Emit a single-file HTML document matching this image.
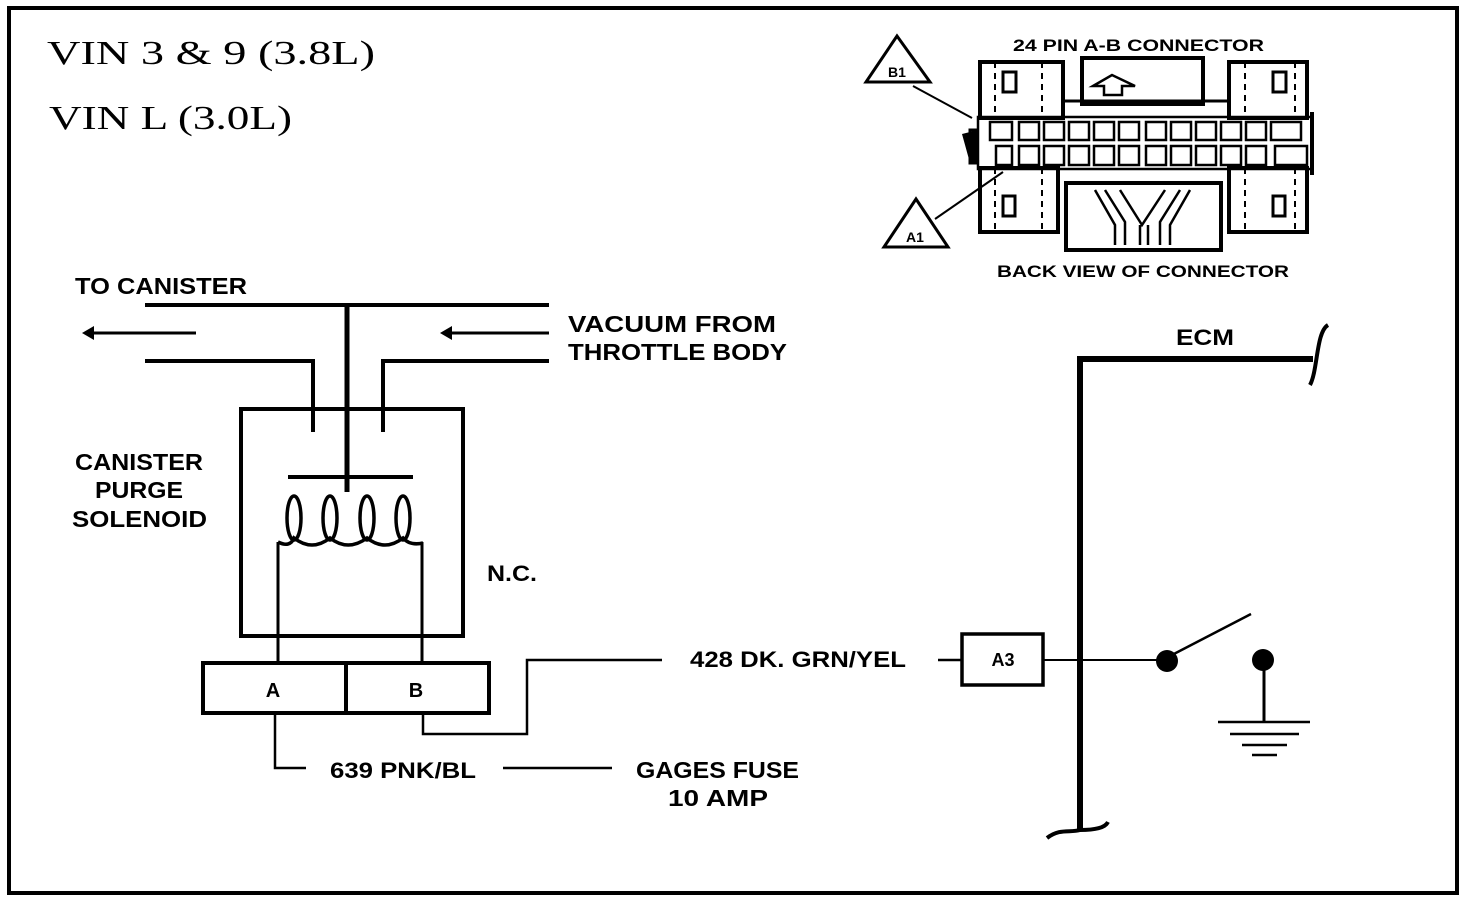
<!DOCTYPE html>
<html><head><meta charset="utf-8"><style>
html,body{margin:0;padding:0;background:#fff}
svg{display:block}
.s{font-family:"Liberation Sans","DejaVu Sans",sans-serif;font-weight:bold;fill:#000}
.r{font-family:"Liberation Serif",serif;fill:#000}
</style></head><body>
<svg width="1472" height="900" viewBox="0 0 1472 900" xmlns="http://www.w3.org/2000/svg">
<rect x="9" y="8" width="1448" height="885" fill="none" stroke="#000" stroke-width="4"/>
<text class="r" x="47" y="64" font-size="34" textLength="328" lengthAdjust="spacingAndGlyphs">VIN  3  &amp;  9  (3.8L)</text>
<text class="r" x="49" y="129" font-size="34" textLength="243" lengthAdjust="spacingAndGlyphs">VIN  L  (3.0L)</text>

<g stroke="#000" fill="none">
<line x1="145" y1="305" x2="549" y2="305" stroke-width="4"/>
<line x1="347" y1="305" x2="347" y2="492" stroke-width="5"/>
<line x1="90" y1="333" x2="196" y2="333" stroke-width="3"/>
<line x1="448" y1="333" x2="549" y2="333" stroke-width="3"/>
<polyline points="145,361 313,361 313,432" stroke-width="4"/>
<polyline points="549,361 383,361 383,432" stroke-width="4"/>
<rect x="241" y="409" width="222" height="227" stroke-width="4"/>
<line x1="288" y1="477" x2="413" y2="477" stroke-width="4"/>
<g stroke-width="3.5">
<ellipse cx="294" cy="518" rx="7" ry="22"/>
<ellipse cx="330" cy="518" rx="7" ry="22"/>
<ellipse cx="367" cy="518" rx="7" ry="22"/>
<ellipse cx="403" cy="518" rx="7" ry="22"/>
<path d="M278,542 Q290,548 294,538 Q312,552 330,538 Q348,552 367,538 Q385,552 403,538 Q410,546 423,543"/>
</g>
<line x1="278" y1="542" x2="278" y2="662" stroke-width="3"/>
<line x1="422" y1="542" x2="422" y2="662" stroke-width="3"/>
<rect x="203" y="663" width="286" height="50" stroke-width="4"/>
<line x1="346" y1="663" x2="346" y2="713" stroke-width="4"/>
<polyline points="275,713 275,768 306,768" stroke-width="2.5"/>
<line x1="503" y1="768" x2="612" y2="768" stroke-width="2.5"/>
<polyline points="423,713 423,734 527,734 527,660 662,660" stroke-width="2.5"/>
<line x1="938" y1="660" x2="962" y2="660" stroke-width="2.5"/>
<rect x="962" y="634" width="81" height="51" stroke-width="3.5"/>
<line x1="1043" y1="660" x2="1165" y2="660" stroke-width="2"/>
<polyline points="1313,359 1080,359 1080,830" stroke-width="6"/>
<path d="M1328,325 C1316,332 1318,370 1310,385" stroke-width="4"/>
<path d="M1047,838 C1060,828 1070,833 1080,830 C1095,830 1105,828 1108,822" stroke-width="4"/>
<line x1="1170" y1="656" x2="1251" y2="614" stroke-width="2.5"/>
<line x1="1264" y1="660" x2="1264" y2="722" stroke-width="3"/>
<line x1="1218" y1="722" x2="1310" y2="722" stroke-width="2.5"/>
<line x1="1230" y1="734" x2="1299" y2="734" stroke-width="2.5"/>
<line x1="1242" y1="745" x2="1287" y2="745" stroke-width="2.5"/>
<line x1="1252" y1="755" x2="1277" y2="755" stroke-width="2.5"/>
</g>
<polygon points="82,333 94,326 94,340" fill="#000"/>
<polygon points="440,333 452,326 452,340" fill="#000"/>
<circle cx="1167" cy="661" r="11" fill="#000"/>
<circle cx="1263" cy="660" r="11" fill="#000"/>

<g lengthAdjust="spacingAndGlyphs">
<text class="s" x="75" y="294" font-size="23" textLength="172" lengthAdjust="spacingAndGlyphs">TO CANISTER</text>
<text class="s" x="568" y="332" font-size="23" textLength="208" lengthAdjust="spacingAndGlyphs">VACUUM FROM</text>
<text class="s" x="568" y="360" font-size="23" textLength="219" lengthAdjust="spacingAndGlyphs">THROTTLE BODY</text>
<text class="s" x="75" y="470" font-size="23" textLength="128" lengthAdjust="spacingAndGlyphs">CANISTER</text>
<text class="s" x="95" y="498" font-size="23" textLength="88" lengthAdjust="spacingAndGlyphs">PURGE</text>
<text class="s" x="72" y="527" font-size="23" textLength="135" lengthAdjust="spacingAndGlyphs">SOLENOID</text>
<text class="s" x="487" y="581" font-size="22" textLength="50" lengthAdjust="spacingAndGlyphs">N.C.</text>
<text class="s" x="330" y="778" font-size="22" textLength="146" lengthAdjust="spacingAndGlyphs">639 PNK/BL</text>
<text class="s" x="636" y="778" font-size="23" textLength="163" lengthAdjust="spacingAndGlyphs">GAGES FUSE</text>
<text class="s" x="668" y="806" font-size="23" textLength="100" lengthAdjust="spacingAndGlyphs">10 AMP</text>
<text class="s" x="690" y="667" font-size="22" textLength="216" lengthAdjust="spacingAndGlyphs">428 DK. GRN/YEL</text>
<text class="s" x="1176" y="345" font-size="22" textLength="58" lengthAdjust="spacingAndGlyphs">ECM</text>
<text class="s" x="1013" y="51" font-size="17" textLength="251" lengthAdjust="spacingAndGlyphs">24 PIN A-B  CONNECTOR</text>
<text class="s" x="997" y="277" font-size="17" textLength="292" lengthAdjust="spacingAndGlyphs">BACK VIEW OF CONNECTOR</text>
</g>
<text class="s" x="273" y="697" font-size="20" text-anchor="middle">A</text>
<text class="s" x="416" y="697" font-size="20" text-anchor="middle">B</text>
<text class="s" x="1003" y="666" font-size="18" text-anchor="middle">A3</text>

<!-- connector -->
<g stroke="#000" fill="none" stroke-width="3">
<polygon points="897,36 866,82 930,82"/>
<polygon points="916,199 884,247 948,247"/>
<line x1="913" y1="86" x2="972" y2="118" stroke-width="2"/>
<line x1="935" y1="219" x2="1003" y2="172" stroke-width="2"/>
<rect x="980" y="62" width="83" height="56" stroke-width="4"/>
<rect x="1082" y="58" width="121" height="46" stroke-width="4"/>
<rect x="1229" y="62" width="78" height="56" stroke-width="4"/>
<line x1="1063" y1="101" x2="1229" y2="101"/>
<rect x="980" y="168" width="78" height="64" stroke-width="4"/>
<rect x="1066" y="183" width="155" height="67" stroke-width="4"/>
<rect x="1229" y="168" width="78" height="64" stroke-width="4"/>
<rect x="978" y="117" width="334" height="52" stroke-width="2.5"/>
<polyline points="978,130 970,130 970,163 978,163" stroke-width="3"/>
<line x1="1312" y1="112" x2="1312" y2="175" stroke-width="4"/>
<rect x="1003" y="72" width="13" height="20"/>
<rect x="1273" y="72" width="13" height="20"/>
<rect x="1003" y="196" width="12" height="20"/>
<rect x="1273" y="196" width="12" height="20"/>
<g stroke-dasharray="6,5" stroke-width="2">
<line x1="995" y1="62" x2="995" y2="118"/><line x1="1042" y1="62" x2="1042" y2="118"/>
<line x1="1245" y1="62" x2="1245" y2="118"/><line x1="1295" y1="62" x2="1295" y2="118"/>
<line x1="995" y1="168" x2="995" y2="232"/><line x1="1042" y1="168" x2="1042" y2="232"/>
<line x1="1245" y1="168" x2="1245" y2="232"/><line x1="1295" y1="168" x2="1295" y2="232"/>
</g>
<path d="M1093,86 L1112,75 L1135,86 L1122,86 L1122,95 L1104,95 L1104,86 Z" stroke-width="2.5"/>
<path d="M1095,190 L1115,225 L1115,245 M1105,190 L1125,222 L1125,245 M1190,190 L1170,225 L1170,245 M1180,190 L1160,222 L1160,245 M1120,190 L1142,225 L1165,190 M1140,225 L1140,245 M1148,225 L1148,245" stroke-width="2.5"/>
</g>
<g stroke="#000" fill="none" stroke-width="2.5">
<rect x="990" y="122" width="22" height="18"/><rect x="1019" y="122" width="20" height="18"/><rect x="1044" y="122" width="20" height="18"/><rect x="1069" y="122" width="20" height="18"/><rect x="1094" y="122" width="20" height="18"/><rect x="1119" y="122" width="20" height="18"/><rect x="1146" y="122" width="20" height="18"/><rect x="1171" y="122" width="20" height="18"/><rect x="1196" y="122" width="20" height="18"/><rect x="1221" y="122" width="20" height="18"/><rect x="1246" y="122" width="20" height="18"/><rect x="1271" y="122" width="30" height="18"/>
<rect x="996" y="146" width="16" height="19"/><rect x="1019" y="146" width="20" height="19"/><rect x="1044" y="146" width="20" height="19"/><rect x="1069" y="146" width="20" height="19"/><rect x="1094" y="146" width="20" height="19"/><rect x="1119" y="146" width="20" height="19"/><rect x="1146" y="146" width="20" height="19"/><rect x="1171" y="146" width="20" height="19"/><rect x="1196" y="146" width="20" height="19"/><rect x="1221" y="146" width="20" height="19"/><rect x="1246" y="146" width="20" height="19"/><rect x="1275" y="146" width="32" height="19"/>
</g>
<polygon points="962,134 978,130 978,163 970,163" fill="#000"/>
<text class="s" x="897" y="77" font-size="14" text-anchor="middle">B1</text>
<text class="s" x="915" y="242" font-size="14" text-anchor="middle">A1</text>
</svg>
</body></html>
